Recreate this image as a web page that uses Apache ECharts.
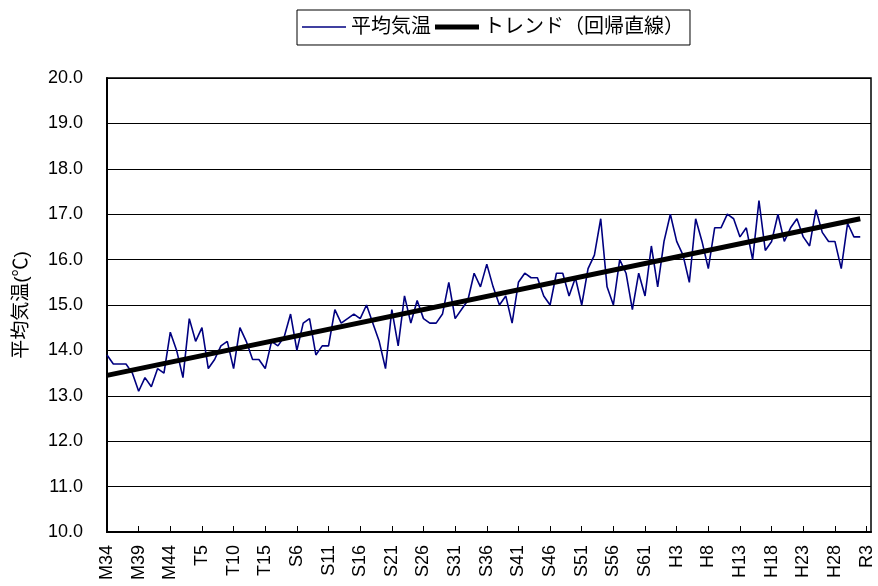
<!DOCTYPE html>
<html>
<head>
<meta charset="utf-8">
<script src="https://cdn.jsdelivr.net/npm/echarts@6/dist/echarts.min.js"></script>
<style>
html,body{margin:0;padding:0;background:#fff;}
#chart{width:878px;height:586px;}
</style>
</head>
<body>
<div id="chart"></div>
<script>
// Tick labels (every 5 years, M34 = 1901 ... R3 = 2021)
const tickLabels = ['M34','M39','M44','T5','T10','T15','S6','S11','S16','S21','S26','S31','S36',
  'S41','S46','S51','S56','S61','H3','H8','H13','H18','H23','H28','R3'];

// Annual mean temperature (°C), one value per year from M34 (1901)
const temps = [
  13.9,13.7,13.7,13.7,13.5,13.1,13.4,13.2,13.6,13.5,
  14.4,14.0,13.4,14.7,14.2,14.5,13.6,13.8,14.1,14.2,
  13.6,14.5,14.2,13.8,13.8,13.6,14.2,14.1,14.3,14.8,
  14.0,14.6,14.7,13.9,14.1,14.1,14.9,14.6,14.7,14.8,
  14.7,15.0,14.6,14.2,13.6,14.9,14.1,15.2,14.6,15.1,
  14.7,14.6,14.6,14.8,15.5,14.7,14.9,15.1,15.7,15.4,
  15.9,15.4,15.0,15.2,14.6,15.5,15.7,15.6,15.6,15.2,
  15.0,15.7,15.7,15.2,15.6,15.0,15.8,16.1,16.9,15.4,
  15.0,16.0,15.7,14.9,15.7,15.2,16.3,15.4,16.4,17.0,
  16.4,16.1,15.5,16.9,16.4,15.8,16.7,16.7,17.0,16.9,
  16.5,16.7,16.0,17.3,16.2,16.4,17.0,16.4,16.7,16.9,
  16.5,16.3,17.1,16.6,16.4,16.4,15.8,16.8,16.5,16.5
];

// Trend line (regression) end values: at first and last year
const trendEnds = [13.45, 16.9];

const FONT = '"Liberation Sans", "Noto Sans CJK JP", sans-serif';

const tempData = temps.map((v, i) => [i, v]);
const trendData = [[0, trendEnds[0]], [temps.length - 1, trendEnds[1]]];

const chart = echarts.init(document.getElementById('chart'), null, {renderer: 'canvas'});
chart.setOption({
  animation: false,
  backgroundColor: '#fff',
  textStyle: {fontFamily: FONT},
  legend: {
    left: 297,
    top: 10,
    padding: [7, 6, 8, 5],
    borderColor: '#000',
    borderWidth: 1,
    itemWidth: 44,
    itemHeight: 14,
    itemGap: 4,
    textStyle: {fontSize: 20, color: '#000', fontFamily: FONT},
    data: [
      {name: '平均気温', icon: 'path://M0,0H44V1.6H0Z', itemStyle: {color: '#000080'}},
      {name: 'トレンド（回帰直線）', icon: 'path://M0,0H44V5H0Z', itemStyle: {color: '#000'}}
    ]
  },
  grid: {
    left: 107,
    top: 78,
    right: 7,
    bottom: 54,
    show: true,
    borderColor: '#000',
    borderWidth: 1.5
  },
  xAxis: {
    type: 'value',
    min: 0,
    max: 120.7,
    interval: 5,
    splitLine: {show: false},
    axisLine: {show: true, onZero: false, lineStyle: {color: '#000', width: 2}},
    axisTick: {show: true, inside: true, length: 6, lineStyle: {color: '#000', width: 1}},
    axisLabel: {
      rotate: 90,
      margin: 13,
      fontSize: 18,
      color: '#000',
      fontFamily: FONT,
      showMaxLabel: false,
      formatter: function (v) {
        const k = Math.round(v / 5);
        if (Math.abs(v - k * 5) > 1e-6) return '';
        return tickLabels[k] || '';
      }
    }
  },
  yAxis: {
    type: 'value',
    min: 10,
    max: 20,
    interval: 1,
    name: '平均気温(℃)',
    nameLocation: 'middle',
    nameGap: 76,
    nameTextStyle: {fontSize: 19, color: '#000', fontFamily: FONT},
    splitLine: {show: true, lineStyle: {color: '#000', width: 1.2}},
    axisLine: {show: true, lineStyle: {color: '#000', width: 2}},
    axisTick: {show: true, inside: true, length: 5, lineStyle: {color: '#000'}},
    axisLabel: {
      margin: 24,
      fontSize: 18,
      color: '#000',
      fontFamily: FONT,
      formatter: v => v.toFixed(1)
    }
  },
  series: [
    {
      name: '平均気温',
      type: 'line',
      data: tempData,
      symbol: 'none',
      lineStyle: {color: '#000080', width: 1.6},
      itemStyle: {color: '#000080'}
    },
    {
      name: 'トレンド（回帰直線）',
      type: 'line',
      data: trendData,
      symbol: 'none',
      lineStyle: {color: '#000', width: 5},
      itemStyle: {color: '#000'}
    }
  ]
});
</script>
</body>
</html>
